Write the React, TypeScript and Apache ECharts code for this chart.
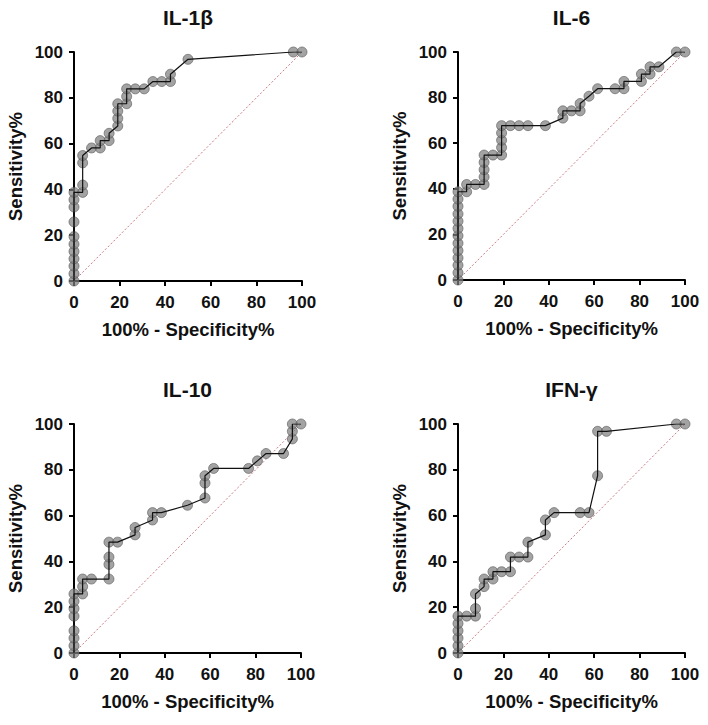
import React, { useEffect, useRef } from "react";
import * as echarts from "echarts";

// ROC curve points: 100% - Specificity% (x) and Sensitivity% (y)
const il1bFpr = [0, 0, 0, 0, 0, 0, 0, 0, 0, 0, 0, 3.8, 3.8, 3.8, 3.8, 7.7, 11.5, 11.5, 15.4, 15.4, 19.2, 19.2, 19.2, 19.2, 23.1, 23.1, 23.1, 26.9, 30.8, 34.6, 38.5, 42.3, 42.3, 50, 96.2, 100];
const il1bSens = [0, 3.2, 6.5, 9.7, 12.9, 16.1, 19.4, 25.8, 32.3, 35.5, 38.7, 38.7, 41.9, 51.6, 54.8, 58.1, 58.1, 61.3, 61.3, 64.5, 67.7, 71, 74.2, 77.4, 77.4, 80.6, 83.9, 83.9, 83.9, 87.1, 87.1, 87.1, 90.3, 96.8, 100, 100];

const il6Fpr = [0, 0, 0, 0, 0, 0, 0, 0, 0, 0, 0, 0, 0, 3.8, 3.8, 7.7, 11.5, 11.5, 11.5, 11.5, 11.5, 15.4, 19.2, 19.2, 19.2, 19.2, 19.2, 23.1, 26.9, 30.8, 38.5, 46.2, 46.2, 50, 53.8, 53.8, 57.7, 61.5, 69.2, 73.1, 73.1, 80.8, 80.8, 84.6, 84.6, 88.5, 96.2, 100];
const il6Sens = [0, 3.2, 6.5, 9.7, 12.9, 16.1, 19.4, 22.6, 25.8, 29, 32.3, 35.5, 38.7, 38.7, 41.9, 41.9, 41.9, 45.2, 48.4, 51.6, 54.8, 54.8, 54.8, 58.1, 61.3, 64.5, 67.7, 67.7, 67.7, 67.7, 67.7, 71, 74.2, 74.2, 74.2, 77.4, 80.6, 83.9, 83.9, 83.9, 87.1, 87.1, 90.3, 90.3, 93.5, 93.5, 100, 100];

const il10Fpr = [0, 0, 0, 0, 0, 0, 0, 0, 3.8, 3.8, 3.8, 7.7, 15.4, 15.4, 15.4, 15.4, 19.2, 26.9, 26.9, 34.6, 34.6, 38.5, 50, 57.7, 57.7, 57.7, 61.5, 76.9, 80.8, 84.6, 92.3, 96.2, 96.2, 96.2, 100];
const il10Sens = [0, 3.2, 6.5, 9.7, 16.1, 19.4, 22.6, 25.8, 25.8, 29, 32.3, 32.3, 32.3, 38.7, 41.9, 48.4, 48.4, 51.6, 54.8, 58.1, 61.3, 61.3, 64.5, 67.7, 74.2, 77.4, 80.6, 80.6, 83.9, 87.1, 87.1, 93.5, 96.8, 100, 100];

const ifngFpr = [0, 0, 0, 0, 0, 0, 3.8, 7.7, 7.7, 7.7, 11.5, 11.5, 15.4, 15.4, 19.2, 23.1, 23.1, 26.9, 30.8, 30.8, 38.5, 38.5, 42.3, 53.8, 57.7, 61.5, 61.5, 65.4, 96.2, 100];
const ifngSens = [0, 3.2, 6.5, 9.7, 12.9, 16.1, 16.1, 16.1, 19.4, 25.8, 29, 32.3, 32.3, 35.5, 35.5, 35.5, 41.9, 41.9, 41.9, 48.4, 51.6, 58.1, 61.3, 61.3, 61.3, 77.4, 96.8, 96.8, 100, 100];

const titles = ["IL-1β", "IL-6", "IL-10", "IFN-γ"];
const axisTicks = [0, 20, 40, 60, 80, 100];
const referenceLine = [[0, 0], [100, 100]];

const xName = "100% - Specificity%";
const yName = "Sensitivity%";

const FONT = "Arial, 'Liberation Sans', Helvetica, sans-serif";

export default function App() {
  const ref = useRef<HTMLDivElement>(null);

  useEffect(() => {
    if (!ref.current) return;
    const chart = echarts.init(ref.current, undefined, { renderer: "svg" });

    const panels = [
      { fpr: il1bFpr, sens: il1bSens, left: 74, top: 52, width: 228, height: 229 },
      { fpr: il6Fpr, sens: il6Sens, left: 458, top: 52, width: 227, height: 228 },
      { fpr: il10Fpr, sens: il10Sens, left: 74, top: 424, width: 227, height: 229 },
      { fpr: ifngFpr, sens: ifngSens, left: 458, top: 424, width: 227, height: 229 },
    ];

    const axisLine = { show: true, onZero: false, lineStyle: { color: "#000", width: 2 } };
    const axisTick = { show: true, inside: false, length: 5, lineStyle: { color: "#000", width: 2 } };
    const labelStyle = { color: "#111", fontWeight: "bold" as const, fontSize: 17, fontFamily: FONT };
    const nameStyle = { color: "#111", fontWeight: "bold" as const, fontSize: 18.5, fontFamily: FONT };

    const series: any[] = [];
    panels.forEach((p, i) => {
      const pts = p.fpr.map((x, k) => [x, p.sens[k]]);
      series.push({
        type: "line",
        xAxisIndex: i,
        yAxisIndex: i,
        data: referenceLine,
        showSymbol: false,
        symbol: "none",
        silent: true,
        z: 1,
        lineStyle: { color: "#c97a80", width: 1, type: [2, 2] },
      });
      series.push({
        type: "scatter",
        xAxisIndex: i,
        yAxisIndex: i,
        data: pts,
        symbol: "circle",
        symbolSize: 10,
        z: 2,
        itemStyle: { color: "rgba(128,128,128,0.9)", borderColor: "rgba(90,90,90,0.8)", borderWidth: 1 },
      });
      series.push({
        type: "line",
        xAxisIndex: i,
        yAxisIndex: i,
        data: pts,
        showSymbol: false,
        symbol: "none",
        z: 3,
        lineStyle: { color: "#111", width: 1.2 },
      });
    });

    chart.setOption({
      animation: false,
      backgroundColor: "#fff",
      grid: panels.map((p) => ({
        left: p.left,
        top: p.top,
        width: p.width,
        height: p.height,
        containLabel: false,
      })),
      xAxis: panels.map((_, i) => ({
        type: "value",
        gridIndex: i,
        min: axisTicks[0],
        max: axisTicks[axisTicks.length - 1],
        interval: axisTicks[1] - axisTicks[0],
        axisLine,
        axisTick,
        splitLine: { show: false },
        axisLabel: { ...labelStyle, margin: 13 },
        name: xName,
        nameLocation: "middle",
        nameGap: 39,
        nameTextStyle: nameStyle,
      })),
      yAxis: panels.map((_, i) => ({
        type: "value",
        gridIndex: i,
        min: axisTicks[0],
        max: axisTicks[axisTicks.length - 1],
        interval: axisTicks[1] - axisTicks[0],
        axisLine,
        axisTick,
        splitLine: { show: false },
        axisLabel: { ...labelStyle, margin: 11 },
        name: yName,
        nameLocation: "middle",
        nameRotate: 90,
        nameGap: 49,
        nameTextStyle: nameStyle,
      })),
      graphic: panels.map((p, i) => ({
        type: "text",
        x: p.left + p.width / 2,
        y: p.top - 35,
        style: {
          text: titles[i],
          fill: "#111",
          font: `bold 21px ${FONT}`,
          align: "center",
          verticalAlign: "middle",
        },
      })),
      series,
    });

    return () => chart.dispose();
  }, []);

  return (
    <div
      ref={ref}
      style={{ position: "absolute", left: 0, top: 0, width: 708, height: 725, background: "#fff" }}
    />
  );
}
